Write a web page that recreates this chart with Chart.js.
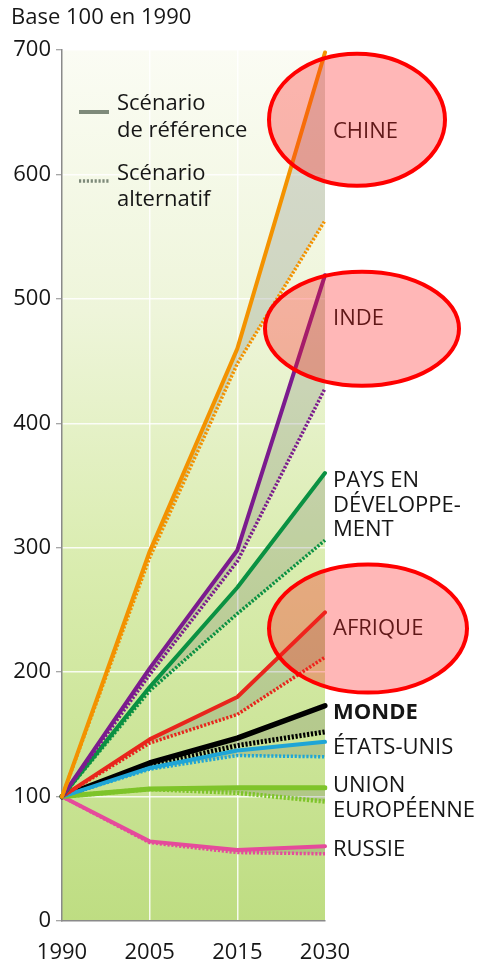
<!DOCTYPE html>
<html>
<head>
<meta charset="utf-8">
<script src="https://cdn.jsdelivr.net/npm/chart.js@4/dist/chart.umd.min.js"></script>
<style>
html,body{margin:0;padding:0;background:#fff;}
#wrap{position:relative;width:485px;height:965px;}
</style>
</head>
<body>
<div id="wrap"><canvas id="c" width="485" height="965"></canvas></div>
<script>
// ---- data ----
const years = ['1990', '2005', '2015', '2030'];
const yTicks = [0, 100, 200, 300, 400, 500, 600, 700];

const chineRef = [100, 297, 460, 698];
const chineAlt = [100, 292, 448, 563];
const indeRef = [100, 203, 298, 519];
const indeAlt = [100, 198, 289, 428];
const pedRef = [100, 188, 268, 360];
const pedAlt = [100, 185, 247, 306];
const afriqueRef = [100, 146, 180, 248];
const afriqueAlt = [100, 143, 166, 212];
const mondeRef = [100, 127, 147, 173];
const mondeAlt = [100, 125, 141, 152];
const usaRef = [100, 123, 137, 144];
const usaAlt = [100, 122, 133, 132];
const ueRef = [100, 106, 107, 107];
const ueAlt = [100, 106, 103, 96];
const russieRef = [100, 64, 57, 60];
const russieAlt = [100, 63, 55, 54];

const titleText = 'Base 100 en 1990';
const legendRef = ['Scénario', 'de référence'];
const legendAlt = ['Scénario', 'alternatif'];

// right-hand labels: lines + vertical anchor (data units)
const seriesLabels = [
  {lines: ['CHINE'], y: 634, bold: false},
  {lines: ['INDE'], y: 484, bold: false},
  {lines: ['PAYS EN', 'DÉVELOPPE-', 'MENT'], y: 334, bold: false},
  {lines: ['AFRIQUE'], y: 235, bold: false},
  {lines: ['MONDE'], y: 167, bold: true},
  {lines: ['ÉTATS-UNIS'], y: 139, bold: false},
  {lines: ['UNION', 'EUROPÉENNE'], y: 98.5, bold: false},
  {lines: ['RUSSIE'], y: 57, bold: false}
];
// highlight ellipses: centre in data units (x offset px from plot right edge)
const highlights = [
  {dx: 32, y: 644, rx: 88, ry: 66},
  {dx: 37, y: 476, rx: 97, ry: 57},
  {dx: 43, y: 235, rx: 99, ry: 64}
];

// ---- styling ----
const FONT = '"Open Sans", "Noto Sans", sans-serif';
const series = [
  {ref: chineRef, alt: chineAlt, color: '#f39200', w: 4},
  {ref: indeRef, alt: indeAlt, color: '#7b1b8e', w: 4},
  {ref: pedRef, alt: pedAlt, color: '#0a9142', w: 4},
  {ref: afriqueRef, alt: afriqueAlt, color: '#e8261c', w: 4},
  {ref: usaRef, alt: usaAlt, color: '#1fa5d6', w: 4},
  {ref: ueRef, alt: ueAlt, color: '#7ec42a', w: 5},
  {ref: russieRef, alt: russieAlt, color: '#e54b9b', w: 4},
  {ref: mondeRef, alt: mondeAlt, color: '#000000', w: 5.5}
];
const bandFill = 'rgba(95,105,95,0.22)';

const datasets = [];
series.forEach(s => {
  datasets.push({
    data: s.ref, borderColor: s.color, borderWidth: s.w,
    pointRadius: 0, fill: false, tension: 0, borderCapStyle: 'round', borderJoinStyle: 'round'
  });
  datasets.push({
    data: s.alt, borderColor: s.color, borderWidth: s.w - 0.5,
    borderDash: [2.2, 1.7], borderCapStyle: 'butt',
    pointRadius: 0, fill: '-1', backgroundColor: bandFill, tension: 0
  });
});

const deco = {
  id: 'deco',
  beforeDraw(chart) {
    const {ctx, chartArea: a} = chart;
    ctx.save();
    const g = ctx.createLinearGradient(0, a.top, 0, a.bottom);
    g.addColorStop(0, '#fbfcf4');
    g.addColorStop(0.3, '#eef5da');
    g.addColorStop(0.6, '#d9ecae');
    g.addColorStop(1, '#bedd82');
    ctx.fillStyle = g;
    ctx.fillRect(a.left, a.top, a.right - a.left, a.bottom - a.top);
    ctx.restore();
  },
  afterDatasetsDraw(chart) {
    const {ctx, chartArea: a, scales: {y}} = chart;
    ctx.save();
    // title
    ctx.fillStyle = '#161616';
    ctx.font = '22px ' + FONT;
    ctx.textBaseline = 'middle';
    ctx.textAlign = 'left';
    ctx.fillText(titleText, 11, 18);
    // legend
    ctx.strokeStyle = '#7e8a7a';
    ctx.lineWidth = 4;
    ctx.beginPath(); ctx.moveTo(79, 112); ctx.lineTo(109, 112); ctx.stroke();
    ctx.setLineDash([2.2, 1.7]);
    ctx.lineWidth = 3.5;
    ctx.beginPath(); ctx.moveTo(79, 181); ctx.lineTo(109, 181); ctx.stroke();
    ctx.setLineDash([]);
    ctx.font = '22px ' + FONT;
    ctx.fillStyle = '#161616';
    ctx.fillText(legendRef[0], 117, 104);
    ctx.fillText(legendRef[1], 117, 131);
    ctx.fillText(legendAlt[0], 117, 174);
    ctx.fillText(legendAlt[1], 117, 200);
    // series labels
    seriesLabels.forEach(l => {
      ctx.font = (l.bold ? 'bold ' : '') + '22px ' + FONT;
      const yc = y.getPixelForValue(l.y);
      const lh = 24.5;
      const y0 = yc - (l.lines.length - 1) * lh / 2;
      l.lines.forEach((t, i) => ctx.fillText(t, a.right + 8, y0 + i * lh));
    });
    // highlight ellipses
    highlights.forEach(h => {
      ctx.beginPath();
      ctx.ellipse(a.right + h.dx, y.getPixelForValue(h.y), h.rx, h.ry, 0, 0, Math.PI * 2);
      ctx.fillStyle = 'rgba(255,30,30,0.32)';
      ctx.fill();
      ctx.lineWidth = 4;
      ctx.strokeStyle = '#ff0000';
      ctx.stroke();
    });
    ctx.restore();
  }
};

new Chart(document.getElementById('c'), {
  type: 'line',
  data: {labels: years, datasets},
  options: {
    responsive: false,
    animation: false,
    layout: {padding: {top: 50, right: 160, left: 0, bottom: 0}},
    plugins: {legend: {display: false}, tooltip: {enabled: false}, filler: {propagate: false}},
    scales: {
      x: {
        type: 'category',
        offset: false,
        afterFit(s) { s.height = 44; },
        grid: {
          color: ctx => (ctx.index === 1 || ctx.index === 2) ? 'rgba(255,255,255,0.85)' : 'rgba(0,0,0,0)',
          lineWidth: 1.5, drawTicks: false
        },
        border: {color: '#8a8a8a', width: 1.5},
        ticks: {color: '#161616', font: {family: FONT, size: 22}, padding: 19, maxRotation: 0, autoSkip: false}
      },
      y: {
        min: 0, max: 700,
        afterFit(s) { s.width = 62; },
        afterBuildTicks(s) { s.ticks = yTicks.map(v => ({value: v})); },
        grid: {color: 'rgba(255,255,255,0.85)', lineWidth: 1.5, tickColor: '#8a8a8a', tickLength: 6, tickWidth: 1},
        border: {color: '#8a8a8a', width: 1.5},
        ticks: {color: '#161616', font: {family: FONT, size: 22}, padding: 5}
      }
    }
  },
  plugins: [deco]
});
</script>
</body>
</html>
